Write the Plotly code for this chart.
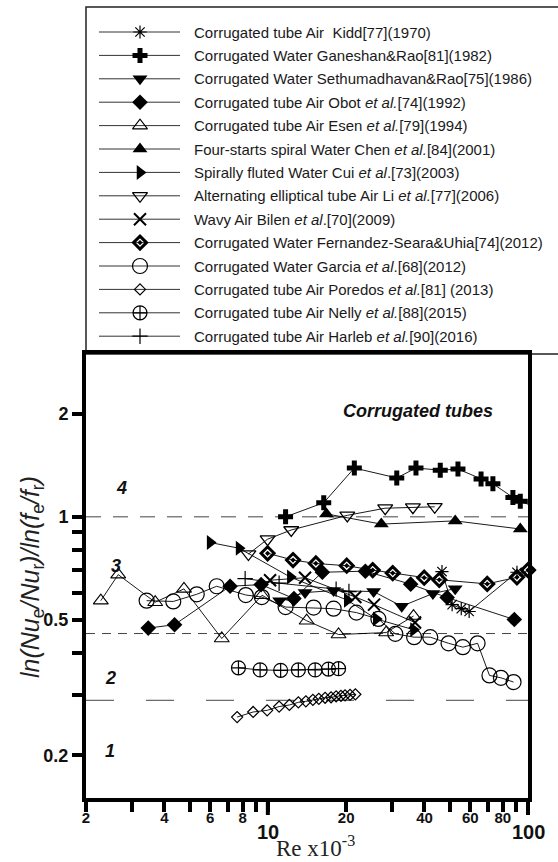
import math
import plotly.graph_objects as go

# ---------------- data: Re x10^-3  vs  ln(Nu_e/Nu_r)/ln(f_e/f_r) ----------------
kidd_re = [46.7, 51.1, 55.4, 59.4, 90.7, 103]
kidd_r = [0.691, 0.553, 0.538, 0.528, 0.688, 0.659]

ganeshan_re = [11.7, 16.4, 21.5, 31.3, 37.1, 46.0, 53.8, 66.0, 73.3, 87.5, 93.4, 103]
ganeshan_r = [1.00, 1.10, 1.39, 1.30, 1.39, 1.37, 1.38, 1.29, 1.25, 1.14, 1.11, 1.08]

sethu_re = [11.1, 13.9, 17.9, 25.5, 32.7, 43.1, 52.5]
sethu_r = [0.568, 0.600, 0.608, 0.604, 0.547, 0.596, 0.616]

obot_re = [3.47, 4.38, 7.16, 9.42, 12.6, 16.2, 23.7, 35.4, 48.9, 88.6]
obot_r = [0.472, 0.483, 0.626, 0.633, 0.576, 0.688, 0.693, 0.635, 0.580, 0.500]

esen_re = [2.28, 2.66, 3.69, 4.76, 6.65, 9.5, 14.1, 18.7, 28.5, 36.3]
esen_r = [0.568, 0.677, 0.562, 0.615, 0.440, 0.589, 0.496, 0.452, 0.458, 0.512]

chen_re = [16.8, 27.3, 52.5, 93.4]
chen_r = [1.02, 0.952, 0.973, 0.921]

cui_re = [6.0, 7.75, 12.2, 20.2, 26.1, 36.3]
cui_r = [0.841, 0.809, 0.666, 0.570, 0.502, 0.467]

li_re = [8.42, 9.98, 12.3, 20.2, 28.25, 36.1, 43.8]
li_r = [0.778, 0.860, 0.915, 1.01, 1.06, 1.067, 1.07]

bilen_re = [10.2, 13.9, 21.7, 25.6, 36.8]
bilen_r = [0.652, 0.663, 0.582, 0.553, 0.490]

fernandez_re = [9.98, 12.5, 15.3, 20.1, 25.3, 30.2, 39.9, 45.6, 69.7, 90.7, 100]
fernandez_r = [0.782, 0.747, 0.730, 0.719, 0.698, 0.684, 0.663, 0.654, 0.636, 0.665, 0.698]

garcia_re = [3.42, 4.33, 5.33, 6.36, 8.23, 9.48, 11.7, 15.0, 17.9, 21.9, 26.6,
             30.9, 36.5, 42.1, 49.5, 56.2, 64.0, 71.1, 78.7, 88.0]
garcia_r = [0.568, 0.565, 0.593, 0.626, 0.590, 0.582, 0.544, 0.542, 0.538, 0.524, 0.502,
            0.454, 0.444, 0.444, 0.426, 0.415, 0.426, 0.343, 0.3375, 0.328]

poredos_re = [7.62, 8.78, 9.94, 11.05, 12.1, 13.1, 14.0, 14.9, 15.7, 16.6, 17.5,
              18.3, 19.1, 19.8, 20.7, 21.7]
poredos_r = [0.259, 0.268, 0.271, 0.278, 0.281, 0.286, 0.288, 0.291, 0.293, 0.295, 0.296,
             0.298, 0.299, 0.300, 0.301, 0.302]

nelly_re = [7.71, 9.34, 11.2, 13.1, 15.2, 17.1, 18.7]
nelly_r = [0.361, 0.356, 0.355, 0.356, 0.356, 0.358, 0.359]

harleb_re = [8.18, 11.05, 18.3, 20.5]
harleb_r = [0.659, 0.639, 0.614, 0.604]

# region boundaries (dashed lines)
boundary_levels = [1.0, 0.455, 0.29]
boundary_dashes = ["15px,12px", "9px,7px", "28px,32px"]

x_tickvals = [2, 3, 4, 5, 6, 7, 8, 9, 10, 20, 30, 40, 50, 60, 70, 80, 90, 100]
x_ticklabels = ["2", "", "4", "", "6", "", "8", "", "10", "20", "", "40", "", "60", "", "80", "", "100"]
x_decades = [10, 100]          # decade ticks: longer marks, larger labels
y_tickvals = [0.2, 0.3, 0.4, 0.5, 0.6, 0.7, 0.8, 0.9, 1, 2]
y_ticklabels = ["0.2", "", "", "0.5", "", "", "", "", "1", "2"]

X_RANGE = (2, 100)
Y_RANGE = (0.15, 3)

# ---------------- series styling ----------------
series = [
    ("Corrugated tube Air  Kidd[77](1970)", kidd_re, kidd_r, "asterisk-open", 11, 1.2),
    ("Corrugated Water Ganeshan&amp;Rao[81](1982)", ganeshan_re, ganeshan_r, "cross", 12.5, 0),
    ("Corrugated Water Sethumadhavan&amp;Rao[75](1986)", sethu_re, sethu_r, "triangle-down", 13, 0),
    ("Corrugated tube Air Obot <i>et al.</i>[74](1992)", obot_re, obot_r, "diamond", 12, 0),
    ("Corrugated tube Air Esen <i>et al.</i>[79](1994)", esen_re, esen_r, "triangle-up-open", 13, 1.1),
    ("Four-starts spiral Water Chen <i>et al.</i>[84](2001)", chen_re, chen_r, "triangle-up", 13, 0),
    ("Spirally fluted Water Cui <i>et al</i>.[73](2003)", cui_re, cui_r, "triangle-right", 13, 0),
    ("Alternating elliptical tube Air Li <i>et al.</i>[77](2006)", li_re, li_r, "triangle-down-open", 13, 1.3),
    ("Wavy Air Bilen <i>et al</i>.[70](2009)", bilen_re, bilen_r, "x-thin-open", 12, 2),
    ("Corrugated Water Fernandez-Seara&amp;Uhia[74](2012)", fernandez_re, fernandez_r, "diamond-open-dot", 10, 3),
    ("Corrugated Water Garcia <i>et al</i>.[68](2012)", garcia_re, garcia_r, "circle-open", 15, 1.2),
    ("Corrugated tube Air Poredos <i>et al.</i>[81] (2013)", poredos_re, poredos_r, "diamond-open", 8.5, 1.2),
    ("Corrugated tube Air Nelly <i>et al.</i>[88](2015)", nelly_re, nelly_r, "circle-cross-open", 14, 1.2),
    ("Corrugated tube Air Harleb <i>et al.</i>[90](2016)", harleb_re, harleb_r, "cross-thin-open", 11, 1.2),
]

# ---------------- layout geometry (pixels) ----------------
W, H = 558, 862
ML, MR, MB = 86, 30, 64
PLOT_TOP = 354
AREA_H = H - MB            # plotting region height (top margin is zero)
AREA_W = W - ML - MR
main_top = (AREA_H - PLOT_TOP) / AREA_H

# legend rows
LEG_ROW0, LEG_STEP = 32, 23.4
LEG_LINE_X0, LEG_LINE_X1, LEG_MARK_X, LEG_TEXT_X = 99, 180, 140, 192


def px_x(px):
    return (px - ML) / AREA_W


def px_y(py):
    return (AREA_H - py) / AREA_H


def xfrac(v):
    return (math.log10(v) - math.log10(X_RANGE[0])) / (math.log10(X_RANGE[1]) - math.log10(X_RANGE[0]))


FONT = "Liberation Sans, Arial, sans-serif"

fig = go.Figure()

# dashed region boundaries
for lvl, dash in zip(boundary_levels, boundary_dashes):
    fig.add_trace(go.Scatter(
        x=[X_RANGE[0], X_RANGE[1]], y=[lvl, lvl], mode="lines",
        line=dict(color="#444444", width=1, dash=dash),
        showlegend=False, hoverinfo="skip", xaxis="x", yaxis="y"))


def marker_style(sym, size, lw):
    return dict(symbol=sym, size=size, color="black",
                line=dict(color="black", width=lw))


# data series
for name, xs, ys, sym, size, lw in series:
    fig.add_trace(go.Scatter(
        x=xs, y=ys, mode="lines+markers", name=name,
        line=dict(color="black", width=0.9),
        marker=marker_style(sym, size, lw),
        cliponaxis=False, showlegend=False, xaxis="x", yaxis="y"))

# legend samples drawn on an auxiliary axis pair above the plot
annotations = []
for i, (name, xs, ys, sym, size, lw) in enumerate(series):
    fig.add_trace(go.Scatter(
        x=[px_x(LEG_LINE_X0), px_x(LEG_LINE_X1)], y=[i, i], mode="lines",
        line=dict(color="#333333", width=1), showlegend=False,
        hoverinfo="skip", xaxis="x2", yaxis="y2"))
    fig.add_trace(go.Scatter(
        x=[px_x(LEG_MARK_X)], y=[i], mode="markers",
        marker=marker_style(sym, size, lw), showlegend=False,
        cliponaxis=False, hoverinfo="skip", xaxis="x2", yaxis="y2"))
    annotations.append(dict(
        x=px_x(LEG_TEXT_X), y=i, xref="x2", yref="y2", text=name,
        showarrow=False, xanchor="left", yanchor="middle",
        font=dict(family=FONT, size=15, color="#1a1a1a")))

# region labels
for txt, px, py in [("4", 121, 488), ("3", 116, 566), ("2", 110, 678), ("1", 110, 751)]:
    annotations.append(dict(
        x=px_x(px), y=px_y(py), xref="paper", yref="paper", text=f"<b><i>{txt}</i></b>",
        showarrow=False, xanchor="center", yanchor="middle",
        font=dict(family=FONT, size=18, color="#111111")))
annotations.append(dict(
    x=px_x(418), y=px_y(411), xref="paper", yref="paper",
    text="<b><i>Corrugated tubes</i></b>", showarrow=False,
    xanchor="center", yanchor="middle",
    font=dict(family=FONT, size=18, color="#111111")))

# larger labels under the decade ticks
for v in x_decades:
    annotations.append(dict(
        x=xfrac(v), y=px_y(832), xref="paper", yref="paper",
        text=x_ticklabels[x_tickvals.index(v)], showarrow=False,
        xanchor="center", yanchor="middle",
        font=dict(family=FONT, size=20, color="#111111", weight="bold")))

# axis titles
annotations.append(dict(
    x=px_x(315), y=px_y(846), xref="paper", yref="paper",
    text="Re x10<sup>-3</sup>", showarrow=False, xanchor="center", yanchor="middle",
    font=dict(family="Liberation Serif, Times New Roman, serif", size=23, color="#222222")))
annotations.append(dict(
    x=px_x(32), y=px_y(577), xref="paper", yref="paper", textangle=-90,
    xanchor="center", yanchor="middle",
    text="<i>ln(Nu</i><sub>e</sub><i>/Nu</i><sub>r</sub><i>)/ln(f</i><sub>e</sub><i>/f</i><sub>r</sub><i>)</i>",
    showarrow=False, font=dict(family=FONT, size=25, color="#222222")))

# legend frame and long ticks at decades
shapes = [
    dict(type="rect", xref="paper", yref="paper",
         x0=0, x1=px_x(562), y0=main_top, y1=px_y(7),
         line=dict(color="#222222", width=1.5), layer="below"),
]
for v in x_decades:
    shapes.append(dict(type="line", xref="paper", yref="paper",
                       x0=xfrac(v), x1=xfrac(v), y0=0, y1=-17 / AREA_H,
                       line=dict(color="black", width=4)))

x_text = ["" if v in x_decades else t for v, t in zip(x_tickvals, x_ticklabels)]

fig.update_layout(
    width=W, height=H,
    margin=dict(l=ML, r=MR, t=0, b=MB, pad=0),
    paper_bgcolor="white", plot_bgcolor="white",
    showlegend=False,
    xaxis=dict(type="log", range=[math.log10(X_RANGE[0]), math.log10(X_RANGE[1])],
               domain=[0, 1], anchor="y",
               showline=True, linewidth=4, linecolor="black", mirror=True,
               showgrid=False, zeroline=False,
               ticks="outside", ticklen=10, tickwidth=4, tickcolor="black",
               tickvals=x_tickvals, ticktext=x_text, tickangle=0,
               ticklabelstandoff=-7,
               tickfont=dict(family=FONT, size=15, color="#111111", weight="bold")),
    yaxis=dict(type="log", range=[math.log10(Y_RANGE[0]), math.log10(Y_RANGE[1])],
               domain=[0, main_top], anchor="x",
               showline=True, linewidth=4, linecolor="black", mirror=True,
               showgrid=False, zeroline=False,
               ticks="outside", ticklen=10, tickwidth=4, tickcolor="black",
               tickvals=y_tickvals, ticktext=y_ticklabels,
               tickfont=dict(family=FONT, size=18, color="#111111", weight="bold")),
    xaxis2=dict(domain=[0, 1], range=[0, 1], anchor="y2", visible=False, fixedrange=True),
    yaxis2=dict(domain=[main_top, 1], anchor="x2", visible=False, fixedrange=True,
                range=[(PLOT_TOP - LEG_ROW0) / LEG_STEP, -LEG_ROW0 / LEG_STEP]),
    annotations=annotations,
    shapes=shapes,
)

fig.write_html("out.html")
